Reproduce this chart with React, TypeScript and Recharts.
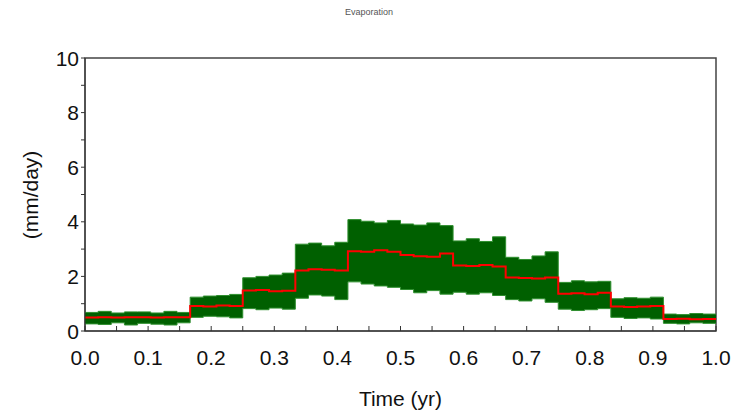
import { ComposedChart, Area, Line, XAxis, YAxis, ReferenceArea, Label } from 'recharts'

// quarter-month readings (mm/day), one row per month
const upper = [
  [0.68, 0.72, 0.66, 0.7],
  [0.7, 0.66, 0.72, 0.68],
  [1.24, 1.28, 1.3, 1.34],
  [1.95, 2.0, 2.05, 2.12],
  [3.18, 3.22, 3.12, 3.25],
  [4.08, 4.02, 3.96, 4.05],
  [3.92, 3.88, 3.96, 3.86],
  [3.3, 3.38, 3.28, 3.45],
  [2.7, 2.62, 2.75, 2.9],
  [1.78, 1.84, 1.8, 1.82],
  [1.18, 1.22, 1.2, 1.24],
  [0.62, 0.6, 0.64, 0.62],
]
const lower = [
  [0.26, 0.24, 0.3, 0.22],
  [0.28, 0.25, 0.22, 0.3],
  [0.5, 0.54, 0.52, 0.48],
  [0.82, 0.78, 0.84, 0.8],
  [1.2, 1.32, 1.28, 1.15],
  [1.8, 1.72, 1.65, 1.6],
  [1.52, 1.4, 1.48, 1.35],
  [1.42, 1.35, 1.4, 1.3],
  [1.15, 1.1, 1.18, 1.05],
  [0.8, 0.75, 0.78, 0.82],
  [0.5, 0.46, 0.48, 0.44],
  [0.28, 0.26, 0.3, 0.28],
]
const mean = [
  [0.49, 0.5, 0.49, 0.5],
  [0.5, 0.49, 0.5, 0.5],
  [0.92, 0.9, 0.93, 0.92],
  [1.48, 1.5, 1.46, 1.47],
  [2.22, 2.26, 2.24, 2.22],
  [2.92, 2.9, 2.96, 2.9],
  [2.78, 2.74, 2.72, 2.84],
  [2.4, 2.38, 2.42, 2.36],
  [1.96, 1.94, 1.92, 1.96],
  [1.36, 1.38, 1.35, 1.4],
  [0.9, 0.88, 0.9, 0.92],
  [0.44, 0.45, 0.43, 0.44],
]

const xTicks = [0, 0.05, 0.1, 0.15, 0.2, 0.25, 0.3, 0.35, 0.4, 0.45, 0.5, 0.55, 0.6, 0.65, 0.7, 0.75, 0.8, 0.85, 0.9, 0.95, 1]
const yTicks = [0, 1, 2, 3, 4, 5, 6, 7, 8, 9, 10]

const rows: { t: number; band: [number, number]; mean: number }[] = []
upper.forEach((u, m) => {
  u.forEach((hi, q) => {
    rows.push({ t: (m + q / 4) / 12, band: [lower[m][q], hi], mean: mean[m][q] })
  })
})
rows.push({ t: 1, band: [lower[11][3], upper[11][3]], mean: mean[11][3] })

const font = '"Liberation Sans", Arial, sans-serif'

function XTick(props: any) {
  const { x, y, payload } = props
  const major = Math.round(payload.value * 100) % 10 === 0
  return (
    <g>
      <line x1={x} x2={x} y1={y} y2={y - 5} stroke="#333" />
      {major && (
        <text x={x} y={y + 34} textAnchor="middle" fontSize={21} fontFamily={font} fill="#111">
          {payload.value.toFixed(1)}
        </text>
      )}
    </g>
  )
}

function YTick(props: any) {
  const { x, y, payload } = props
  const major = payload.value % 2 === 0
  return (
    <g>
      <line x1={x - 4} x2={x} y1={y} y2={y} stroke="#333" />
      {major && (
        <text x={x - 6} y={y + 7.5} textAnchor="end" fontSize={21} fontFamily={font} fill="#111">
          {payload.value}
        </text>
      )}
    </g>
  )
}

export default function App() {
  return (
    <div style={{ position: 'absolute', left: 0, top: 0, width: 738, height: 419, background: '#fff' }}>
      <div
        style={{
          position: 'absolute',
          top: 7,
          left: 0,
          width: 738,
          textAlign: 'center',
          fontSize: 9,
          fontFamily: font,
          color: '#555',
        }}
      >
        Evaporation
      </div>
      <ComposedChart width={738} height={419} data={rows} margin={{ top: 58, right: 22, bottom: 0, left: 0 }}>
        <XAxis
          dataKey="t"
          type="number"
          domain={[0, 1]}
          ticks={xTicks}
          interval={0}
          tickSize={0}
          tickMargin={0}
          height={88}
          stroke="#333"
          tick={<XTick />}
        >
          <Label value="Time (yr)" position="insideBottom" offset={13} fontSize={21} fontFamily={font} fill="#111" />
        </XAxis>
        <YAxis
          type="number"
          domain={[0, 10]}
          ticks={yTicks}
          interval={0}
          tickSize={0}
          tickMargin={0}
          width={85}
          stroke="#333"
          tick={<YTick />}
        >
          <Label
            content={() => (
              <text
                x={30}
                y={195}
                transform="rotate(-90 30 195)"
                textAnchor="middle"
                dominantBaseline="central"
                fontSize={21}
                fontFamily={font}
                fill="#111"
              >
                (mm/day)
              </text>
            )}
          />
        </YAxis>
        <ReferenceArea x1={0} x2={1} y1={0} y2={10} fill="none" stroke="#444" strokeWidth={1.5} />
        <Area
          dataKey="band"
          type="stepAfter"
          fill="#006000"
          fillOpacity={1}
          stroke="#2f8f2f"
          strokeWidth={1}
          isAnimationActive={false}
        />
        <Line dataKey="mean" type="stepAfter" stroke="#ff0000" strokeWidth={2} dot={false} isAnimationActive={false} />
      </ComposedChart>
    </div>
  )
}
